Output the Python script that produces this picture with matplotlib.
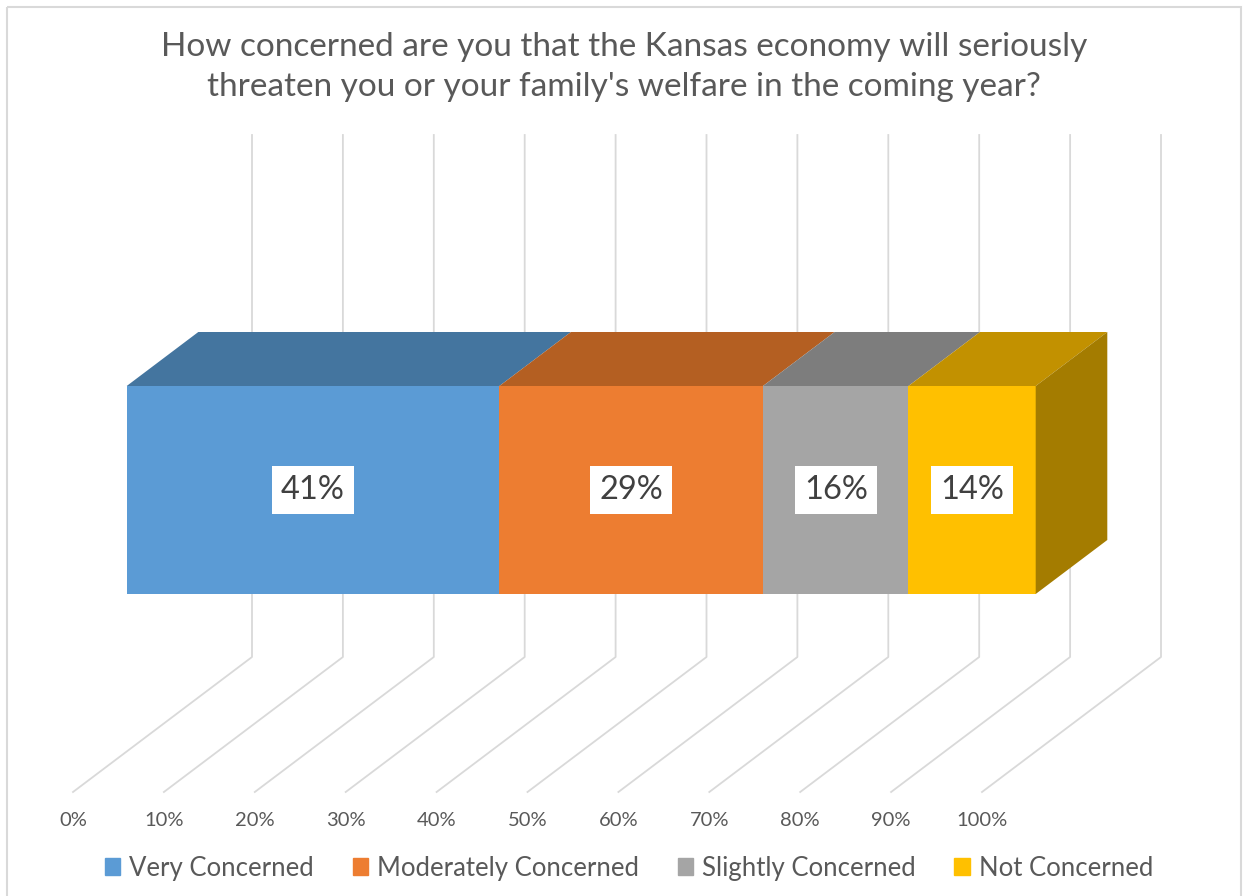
import matplotlib.pyplot as plt
from matplotlib.patches import Patch, Rectangle

plt.rcParams['font.family'] = ['Lato', 'DejaVu Sans']

# survey answers, share of respondents in percent
categories = ["Very Concerned", "Moderately Concerned", "Slightly Concerned", "Not Concerned"]
values = [41, 29, 16, 14]
tick_values = [0, 10, 20, 30, 40, 50, 60, 70, 80, 90, 100]
tick_labels = ["0%", "10%", "20%", "30%", "40%", "50%", "60%", "70%", "80%", "90%", "100%"]

front_colors = ["#5B9BD5", "#ED7D31", "#A5A5A5", "#FFC000"]
top_colors = ["#44759F", "#B45F22", "#7D7D7D", "#C29100"]
side_color = "#A47C00"

title = "How concerned are you that the Kansas economy will seriously\nthreaten you or your family's welfare in the coming year?"

# oblique projection: value (%), depth (0 front .. 1 back), height (px)
X0, Y0 = 73, 792
SX = 9.09
DX, DY = 179, 135
WALL = 522
D_FRONT, D_BACK = 0.30, 0.70
Z_LOW, Z_HIGH = 157.5, 365.5


def proj(v, d, z):
    return X0 + SX * v + DX * d, Y0 - DY * d - z


fig = plt.figure(figsize=(12.43, 8.96), dpi=100)
ax = fig.add_axes([0, 0, 1, 1])
ax.set_xlim(0, 1243)
ax.set_ylim(896, 0)
ax.axis("off")

# chart frame
ax.add_patch(Rectangle((7, 7), 1234, 900, fill=False, ec="#D9D9D9", lw=1.5))

grid = "#D9D9D9"
for v, lab in zip(tick_values, tick_labels):
    fx, fy = proj(v, 0, 0)
    bx, by = proj(v, 1, 0)
    tx, ty = proj(v, 1, WALL)
    ax.plot([fx, bx, tx], [fy, by, ty], color=grid, lw=1.3, zorder=1)
    ax.text(fx, fy + 28, lab, ha="center", va="center", fontsize=14.5, color="#595959")

left = 0
for i, (val, fc, tc) in enumerate(zip(values, front_colors, top_colors)):
    right = left + val
    # front face
    pts = [proj(left, D_FRONT, Z_LOW), proj(right, D_FRONT, Z_LOW),
           proj(right, D_FRONT, Z_HIGH), proj(left, D_FRONT, Z_HIGH)]
    ax.fill(*zip(*pts), color=fc, zorder=3, lw=0)
    # top face
    pts = [proj(left, D_FRONT, Z_HIGH), proj(right, D_FRONT, Z_HIGH),
           proj(right, D_BACK, Z_HIGH), proj(left, D_BACK, Z_HIGH)]
    ax.fill(*zip(*pts), color=tc, zorder=3, lw=0)
    if i == len(values) - 1:
        pts = [proj(right, D_FRONT, Z_LOW), proj(right, D_BACK, Z_LOW),
               proj(right, D_BACK, Z_HIGH), proj(right, D_FRONT, Z_HIGH)]
        ax.fill(*zip(*pts), color=side_color, zorder=3, lw=0)
    cx, cy = proj((left + right) / 2, D_FRONT, (Z_LOW + Z_HIGH) / 2)
    ax.text(cx, cy, f"{val}%", ha="center", va="center", fontsize=23.5, color="#404040",
            zorder=5, bbox=dict(boxstyle="square,pad=0.28", fc="white", ec="none"))
    left = right

ax.text(624, 67, title, ha="center", va="center", fontsize=24, color="#595959",
        linespacing=1.45)

handles = [Patch(color=c, label=l) for c, l in zip(front_colors, categories)]
fig.legend(handles=handles, loc="center", bbox_to_anchor=(0.506, 1 - 868 / 896), ncol=4,
           frameon=False, fontsize=18.5, labelcolor="#595959", handlelength=0.6,
           handleheight=0.6, handletextpad=0.35, columnspacing=1.5)

fig.savefig("out.png", dpi=100)
